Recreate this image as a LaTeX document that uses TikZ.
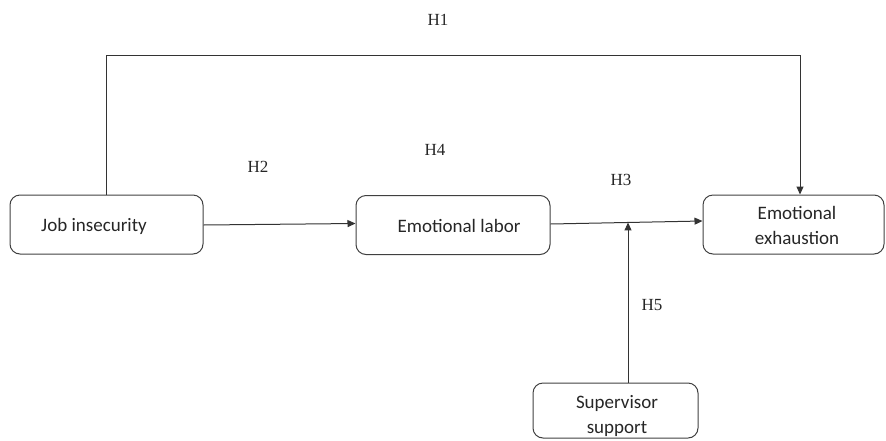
\documentclass[tikz,border=0pt]{standalone}
\usepackage{fontspec}
\setmainfont{Liberation Serif}
\newfontfamily\boxfont{Carlito}
\usetikzlibrary{arrows.meta,calc}
\begin{document}
\begin{tikzpicture}[x=1pt,y=-1pt,
  boxstyle/.style={draw=black!75, line width=1pt, rounded corners=10pt, inner sep=0pt},
  boxtext/.style={font=\boxfont\fontsize{19}{25}\selectfont, text=black!85, align=center, inner sep=0pt},
  hlabel/.style={font=\fontsize{17}{20}\selectfont, text=black!85, inner sep=0pt},
  arr/.style={draw=black!80, line width=1pt, -{Triangle[length=8pt,width=7pt]}}]
\useasboundingbox (0,0) rectangle (886,440);
% boxes
\node[boxstyle, minimum width=193pt, minimum height=59pt] (job) at (106.5,224.5) {};
\node[boxtext] (jobt) at (94,226) {Job insecurity};
\node[boxstyle, minimum width=194pt, minimum height=59pt] (lab) at (453,225) {};
\node[boxtext] (labt) at (459,226) {Emotional labor};
\node[boxstyle, minimum width=181pt, minimum height=59pt] (exh) at (793.5,224.5) {};
\node[boxtext] (exht) at (797,225) {Emotional\\exhaustion};
\node[boxstyle, minimum width=165pt, minimum height=55pt] (sup) at (615.5,410.5) {};
\node[boxtext] (supt) at (617,416) {Supervisor\\support};
% connectors
\coordinate (h1b) at (800,55);
\coordinate (la) at ([yshift=1pt]lab.east);
\coordinate (ea) at ([yshift=3.5pt]exh.west);
\coordinate (j) at ($(la)!0.51!(ea)$);
\draw[arr] (job.north) |- (h1b) -- ([xshift=6.5pt]exh.north);
\draw[arr] ([yshift=-0.5pt]job.east) -- ([yshift=1.5pt]lab.west);
\draw[arr] (la) -- (ea);
\draw[arr] (j |- sup.north) -- (j);
% labels
\node[hlabel] (H1) at (438,20) {H1};
\node[hlabel] (H2) at (258,167) {H2};
\node[hlabel] (H4) at (435,150) {H4};
\node[hlabel] (H3) at (621,180) {H3};
\node[hlabel] (H5) at (652,305) {H5};
\end{tikzpicture}
\end{document}
